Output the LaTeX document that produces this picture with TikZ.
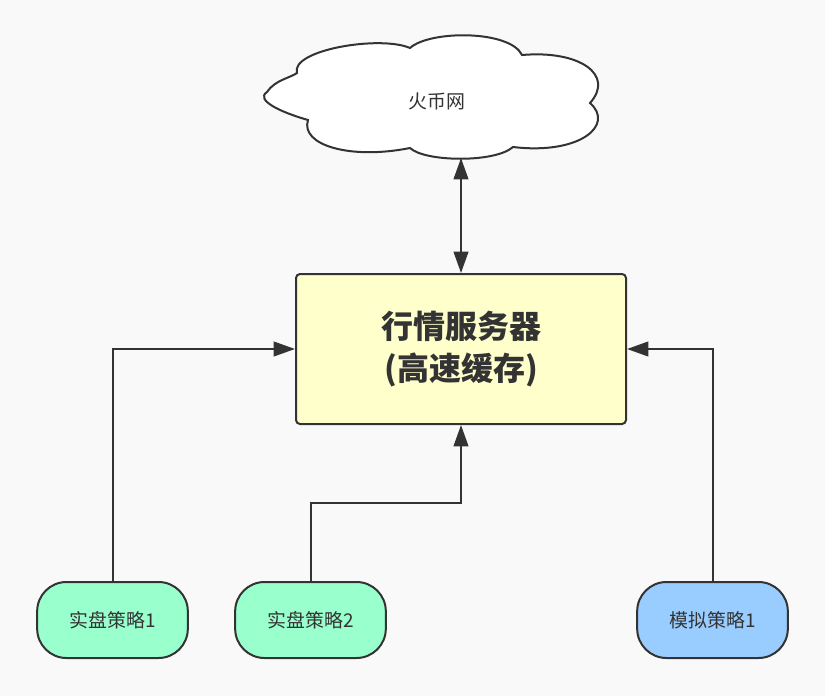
\documentclass[tikz,border=0pt]{standalone}
\usepackage{fontspec}
\setmainfont{Noto Sans CJK SC}
\usetikzlibrary{arrows.meta,positioning}
\definecolor{linegray}{HTML}{333333}
\definecolor{bggray}{HTML}{F9F9F9}
\definecolor{serverfill}{HTML}{FFFFCC}
\definecolor{realfill}{HTML}{99FFCC}
\definecolor{simfill}{HTML}{99CCFF}

\begin{document}
\begin{tikzpicture}[
    x=0.75pt, y=-0.75pt,
    node distance=10mm,
    strategy/.style={draw=linegray, line width=1.5pt, rounded corners=22pt,
                minimum width=113pt, minimum height=57pt, align=center,
                text=linegray, font=\fontsize{14.2}{17}\selectfont},
    arrow/.style={-{Triangle[length=16pt, width=11pt]}, line width=1.5pt,
                draw=linegray},
]
% background
\fill[bggray] (0,0) rectangle (825,696);
\useasboundingbox (0,0) rectangle (825,696);

% exchange (cloud outline)
\draw[linegray, line width=1.5pt, fill=white]
    (297,73) .. controls (290,50) and (380,35) .. (410,48)
    .. controls (430,30) and (510,30) .. (522,55)
    .. controls (580,50) and (615,75) .. (590,103)
    .. controls (615,125) and (580,155) .. (513,147)
    .. controls (495,163) and (425,162) .. (410,148)
    .. controls (350,160) and (300,145) .. (308,120)
    .. controls (280,112) and (255,100) .. (267,92)
    .. controls (275,80) and (290,78) .. (297,73) -- cycle;
\node[text=linegray, font=\fontsize{14.2}{17}\selectfont] (huobi) at (437,101) {火币网};
\coordinate (huobibottom) at (461,158);

% server
\node[draw=linegray, line width=1.5pt, rounded corners=3pt, fill=serverfill,
    minimum width=247.5pt, minimum height=112.5pt, align=center,
    text=linegray, font=\fontsize{24}{32}\selectfont\bfseries]
    (server) at (461,349) {行情服务器\\(高速缓存)};

% strategies
\node[strategy, fill=realfill] (real1) at (112.5,620) {实盘策略1};
\node[strategy, fill=realfill, right=34pt of real1] (real2) {实盘策略2};
\node[strategy, fill=simfill] (sim1) at (712.5,620) {模拟策略1};

% Arrows
\draw[arrow, {Triangle[length=16pt, width=11pt]}-{Triangle[length=16pt, width=11pt]}]
    (huobibottom) -- (server.north);
\draw[arrow] (real1.north) |- (server.west);
\draw[arrow] (real2.north) -- ++(0,-78) -| (server.south);
\draw[arrow] (sim1.north) |- (server.east);

\end{tikzpicture}
\end{document}
